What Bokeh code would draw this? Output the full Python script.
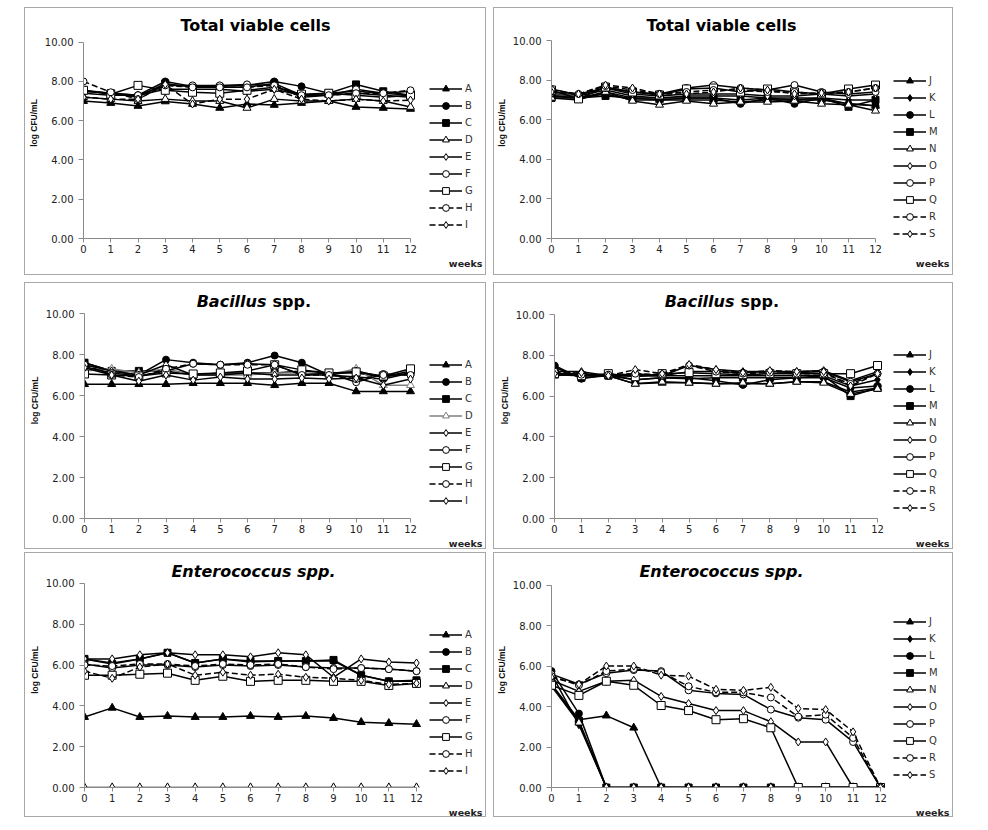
from bokeh.plotting import figure
from bokeh.models import Range1d, FixedTicker, Legend, LegendItem, Label, Spacer, NumeralTickFormatter, Title
from bokeh.layouts import row, column
from bokeh.embed import file_html
from bokeh.resources import INLINE

weeks = list(range(13))
y_ticks = [0, 2, 4, 6, 8, 10]
left_names = ["A", "B", "C", "D", "E", "F", "G", "H", "I"]
right_names = ["J", "K", "L", "M", "N", "O", "P", "Q", "R", "S"]

# ---- Total viable cells (A-I)
tvc_left = {
    "A": [7.0, 6.9, 6.75, 6.98, 6.85, 6.65, 6.85, 6.8, 6.9, 7.0, 6.7, 6.65, 6.6],
    "B": [7.5, 7.4, 7.3, 8.0, 7.75, 7.75, 7.8, 8.0, 7.75, 7.4, 7.5, 7.4, 7.3],
    "C": [7.55, 7.4, 7.2, 7.9, 7.7, 7.7, 7.7, 7.9, 7.3, 7.4, 7.85, 7.5, 7.3],
    "D": [7.2, 7.1, 7.0, 7.1, 7.0, 7.0, 6.65, 7.1, 7.0, 7.0, 7.1, 7.0, 6.7],
    "E": [7.4, 7.3, 7.3, 7.6, 7.6, 7.6, 7.5, 7.6, 7.3, 7.3, 7.4, 7.3, 7.2],
    "F": [7.5, 7.4, 7.3, 7.8, 7.8, 7.8, 7.85, 7.8, 7.2, 7.3, 7.6, 7.4, 7.5],
    "G": [7.55, 7.35, 7.8, 7.55, 7.45, 7.4, 7.55, 7.7, 7.35, 7.4, 7.3, 7.2, 7.3],
    "H": [8.0, 7.45, 7.1, 7.8, 7.7, 7.7, 7.7, 7.8, 7.3, 7.3, 7.4, 7.4, 7.55],
    "I": [7.2, 7.1, 7.1, 7.85, 6.85, 7.1, 7.1, 7.6, 7.1, 7.0, 7.1, 7.0, 7.05],
}
# ---- Total viable cells (J-S)
tvc_right = {
    "J": [7.2, 7.1, 7.3, 7.0, 7.0, 7.0, 7.0, 6.9, 7.0, 7.0, 7.0, 6.8, 6.7],
    "K": [7.2, 7.2, 7.5, 7.2, 7.1, 7.2, 7.2, 7.2, 7.1, 7.1, 7.1, 7.0, 7.0],
    "L": [7.2, 7.1, 7.4, 7.1, 7.0, 7.1, 7.1, 6.8, 7.1, 6.8, 7.1, 6.8, 6.7],
    "M": [7.1, 7.1, 7.2, 7.1, 7.1, 7.1, 7.1, 7.0, 7.1, 7.0, 7.1, 6.65, 7.0],
    "N": [7.1, 7.0, 7.4, 6.95, 6.75, 6.95, 6.8, 6.9, 6.9, 6.95, 6.8, 6.75, 6.45],
    "O": [7.3, 7.3, 7.6, 7.3, 7.2, 7.3, 7.3, 7.3, 7.2, 7.2, 7.3, 7.2, 7.3],
    "P": [7.55, 7.25, 7.6, 7.4, 7.3, 7.6, 7.75, 7.6, 7.5, 7.75, 7.4, 7.3, 7.4],
    "Q": [7.5, 7.05, 7.65, 7.4, 7.25, 7.55, 7.6, 7.4, 7.55, 7.4, 7.3, 7.55, 7.75],
    "R": [7.5, 7.3, 7.7, 7.5, 7.3, 7.4, 7.5, 7.5, 7.4, 7.4, 7.3, 7.4, 7.6],
    "S": [7.4, 7.3, 7.75, 7.6, 7.3, 7.3, 7.4, 7.6, 7.5, 7.3, 7.35, 7.4, 7.6],
}
# ---- Bacillus spp. (A-I)
bac_left = {
    "A": [6.55, 6.55, 6.55, 6.55, 6.6, 6.6, 6.6, 6.5, 6.6, 6.6, 6.2, 6.2, 6.2],
    "B": [7.6, 7.2, 7.0, 7.75, 7.6, 7.5, 7.6, 7.95, 7.6, 7.0, 6.9, 6.8, 7.1],
    "C": [7.6, 7.2, 7.2, 7.2, 7.0, 7.1, 7.1, 7.1, 7.2, 7.1, 7.1, 6.9, 7.2],
    "D": [7.2, 7.3, 7.1, 7.3, 7.0, 7.0, 7.0, 7.1, 7.1, 7.0, 7.3, 6.5, 6.5],
    "E": [7.5, 7.2, 7.0, 7.5, 7.0, 7.0, 7.1, 7.0, 7.0, 7.0, 7.2, 6.9, 7.1],
    "F": [7.4, 7.1, 6.95, 7.2, 7.55, 7.5, 7.55, 7.5, 7.0, 7.1, 6.65, 7.05, 7.0],
    "G": [7.05, 7.0, 6.95, 7.1, 7.05, 7.1, 7.2, 7.5, 7.25, 7.1, 7.15, 6.95, 7.3],
    "H": [7.5, 7.0, 6.9, 7.3, 7.55, 7.5, 7.5, 7.5, 7.0, 7.0, 6.8, 7.0, 7.0],
    "I": [7.35, 7.0, 6.7, 7.0, 6.75, 6.9, 6.8, 6.8, 6.85, 6.8, 6.85, 6.5, 6.8],
}
# ---- Bacillus spp. (J-S)
bac_right = {
    "J": [7.05, 7.0, 7.0, 6.6, 6.65, 6.65, 6.6, 6.6, 6.6, 6.7, 6.7, 6.2, 6.4],
    "K": [7.1, 7.1, 7.0, 7.0, 7.0, 7.0, 7.0, 7.0, 7.0, 7.0, 7.0, 6.5, 6.8],
    "L": [7.5, 6.85, 7.05, 6.8, 6.9, 6.9, 6.75, 6.55, 6.8, 6.9, 6.9, 6.4, 6.5],
    "M": [7.4, 6.9, 7.0, 6.8, 6.9, 6.85, 6.9, 6.9, 6.9, 6.9, 7.0, 6.0, 6.4],
    "N": [7.0, 7.1, 7.0, 6.6, 6.7, 6.65, 6.6, 6.65, 6.6, 6.7, 6.65, 6.1, 6.35],
    "O": [7.2, 7.2, 7.0, 7.1, 7.0, 7.5, 7.3, 7.2, 7.2, 7.2, 7.25, 6.75, 7.2],
    "P": [7.15, 7.0, 7.0, 7.0, 7.0, 7.2, 7.2, 7.15, 7.2, 7.15, 7.2, 6.7, 7.1],
    "Q": [7.1, 7.0, 7.1, 6.95, 7.1, 7.15, 7.1, 7.05, 7.1, 7.1, 7.1, 7.1, 7.5],
    "R": [7.2, 7.05, 7.05, 7.1, 7.05, 7.5, 7.2, 7.1, 7.15, 7.1, 7.1, 6.6, 7.1],
    "S": [7.1, 7.15, 7.0, 7.3, 7.1, 7.55, 7.3, 7.15, 7.25, 7.2, 7.2, 6.5, 7.1],
}
# ---- Enterococcus spp. (A-I)
ent_left = {
    "A": [3.45, 3.9, 3.45, 3.5, 3.45, 3.45, 3.5, 3.45, 3.5, 3.4, 3.2, 3.15, 3.1],
    "B": [6.3, 6.1, 6.3, 6.6, 6.1, 6.3, 6.15, 6.2, 6.2, 6.2, 5.5, 5.2, 5.2],
    "C": [6.3, 6.05, 6.3, 6.6, 6.1, 6.3, 6.2, 6.2, 6.2, 6.25, 5.5, 5.2, 5.25],
    "D": [0, 0, 0, 0, 0, 0, 0, 0, 0, 0, 0, 0, 0],
    "E": [6.3, 6.3, 6.5, 6.6, 6.5, 6.5, 6.4, 6.6, 6.5, 5.4, 6.3, 6.15, 6.1],
    "F": [6.05, 5.85, 6.0, 6.0, 5.9, 6.0, 5.95, 6.0, 5.9, 5.85, 5.85, 5.8, 5.7],
    "G": [5.5, 5.5, 5.55, 5.6, 5.25, 5.45, 5.2, 5.25, 5.25, 5.2, 5.2, 5.0, 5.1],
    "H": [6.0, 5.95, 6.05, 6.05, 5.95, 6.05, 6.0, 6.05, 5.9, 5.8, 5.85, 5.8, 5.7],
    "I": [5.7, 5.35, 5.9, 6.05, 5.5, 5.65, 5.5, 5.55, 5.4, 5.35, 5.25, 5.05, 5.1],
}
# ---- Enterococcus spp. (J-S)
ent_right = {
    "J": [5.1, 3.35, 3.55, 2.95, 0, 0, 0, 0, 0, 0, 0, 0, 0],
    "K": [5.6, 3.1, 0, 0, 0, 0, 0, 0, 0, 0, 0, 0, 0],
    "L": [5.75, 3.65, 0, 0, 0, 0, 0, 0, 0, 0, 0, 0, 0],
    "M": [5.05, 3.3, 0, 0, 0, 0, 0, 0, 0, 0, 0, 0, 0],
    "N": [5.0, 3.2, 0, 0, 0, 0, 0, 0, 0, 0, 0, 0, 0],
    "O": [5.3, 4.75, 5.25, 5.3, 4.5, 4.15, 3.8, 3.8, 3.25, 2.25, 2.25, 0, 0],
    "P": [5.6, 5.1, 5.65, 5.8, 5.75, 4.8, 4.65, 4.6, 3.85, 3.45, 3.35, 2.25, 0],
    "Q": [5.05, 4.55, 5.25, 5.05, 4.05, 3.8, 3.35, 3.4, 2.95, 0, 0, 0, 0],
    "R": [5.5, 5.05, 5.75, 5.85, 5.7, 5.0, 4.7, 4.7, 4.45, 3.5, 3.6, 2.45, 0],
    "S": [5.45, 5.1, 6.0, 6.0, 5.55, 5.5, 4.85, 4.8, 4.95, 3.9, 3.85, 2.75, 0],
}

# marker styles: (marker, size, fill, dash)
left_styles = [("triangle", 8, "black", "solid"), ("circle", 7, "black", "solid"),
               ("square", 7, "black", "solid"), ("triangle", 8, "white", "solid"),
               ("diamond", 8, "white", "solid"), ("circle", 7, "white", "solid"),
               ("square", 8, "white", "solid"), ("circle", 7, "white", "6 3"),
               ("diamond", 8, "white", "6 3")]
right_styles = [("triangle", 8, "black", "solid"), ("diamond", 8, "black", "solid"),
                ("circle", 7, "black", "solid"), ("square", 7, "black", "solid"),
                ("triangle", 8, "white", "solid"), ("diamond", 8, "white", "solid"),
                ("circle", 7, "white", "solid"), ("square", 8, "white", "solid"),
                ("circle", 7, "white", "6 3"), ("diamond", 8, "white", "6 3")]

FONT = "DejaVu Sans"


def make_panel(W, H, L, T, B, x12, names, data, styles, title_parts, leg_xy,
               overrides=None):
    R = 2
    frame_w = W - L - R
    px_x = (x12 - L) / 12.0
    px_y = (H - B - T) / 10.0
    x_end = frame_w / px_x
    y_end = 10 + T / px_y

    def dx(lx):
        return (lx - L) / px_x

    def dy(ly):
        return (H - B - ly) / px_y

    p = figure(width=W, height=H, x_range=Range1d(0, x_end), y_range=Range1d(0, y_end),
               output_backend="svg", toolbar_location=None,
               min_border_left=L, min_border_right=R, min_border_top=0, min_border_bottom=B)
    p.title.visible = False
    p.outline_line_color = None
    p.border_fill_color = None
    p.background_fill_color = None
    p.xgrid.visible = False
    p.ygrid.visible = False
    p.styles = {"box-shadow": "inset 0 0 0 1px #a8a8a8"}

    for ax in (p.xaxis[0], p.yaxis[0]):
        ax.axis_line_color = "#8a8a8a"
        ax.major_tick_line_color = "#8a8a8a"
        ax.minor_tick_line_color = None
        ax.major_tick_in = 0
        ax.major_label_text_font = FONT
        ax.major_label_text_font_size = "10px"
        ax.major_label_text_color = "#222222"
    p.xaxis.ticker = FixedTicker(ticks=weeks)
    p.xaxis.bounds = (0, 12)
    p.xaxis.major_tick_out = 4
    p.xaxis.major_label_standoff = 2
    p.yaxis.ticker = FixedTicker(ticks=y_ticks)
    p.yaxis.bounds = (0, 10)
    p.yaxis.formatter = NumeralTickFormatter(format="0.00")
    p.yaxis.major_tick_out = 5
    p.yaxis.major_label_standoff = 5
    p.yaxis.axis_label = "log CFU/mL"
    p.yaxis.axis_label_text_font = "Liberation Sans"
    p.yaxis.axis_label_text_font_style = "bold"
    p.yaxis.axis_label_text_font_size = "8.5px"
    p.yaxis.axis_label_text_color = "#111111"
    p.yaxis.axis_label_standoff = 3

    items = []
    for i, name in enumerate(names):
        marker, size, fill, dash = styles[i]
        col = "black"
        if overrides and name in overrides:
            o = overrides[name]
            col = o.get("color", col)
            dash = o.get("dash", dash)
        lr = p.line(weeks, data[name], line_color=col, line_width=1.5, line_dash=dash)
        sr = p.scatter(weeks, data[name], marker=marker, size=size, fill_color=fill,
                       line_color=col, line_width=1)
        items.append(LegendItem(label=name, renderers=[lr, sr]))

    leg = Legend(items=items, location=leg_xy, glyph_width=33, glyph_height=17,
                 label_height=17, spacing=0, padding=0, margin=0, label_standoff=3,
                 border_line_color=None, background_fill_alpha=0,
                 label_text_font=FONT, label_text_font_size="10px",
                 label_text_color="#333333")
    p.add_layout(leg, "center")

    # chart title (inside the frame area above the y-axis end)
    if len(title_parts) == 1:
        txt, style, lx, ly = title_parts[0]
        p.add_layout(Label(x=dx(lx), y=dy(ly), text=txt, text_font=FONT,
                           text_font_style=style, text_font_size="16px",
                           text_align="center", text_baseline="middle", text_color="black"))
    else:
        (t1, s1, lx1, ly), (t2, s2, lx2, _) = title_parts
        p.add_layout(Label(x=dx(lx1), y=dy(ly), text=t1, text_font=FONT,
                           text_font_style=s1, text_font_size="16px",
                           text_align="right", text_baseline="middle", text_color="black"))
        p.add_layout(Label(x=dx(lx2), y=dy(ly), text=t2, text_font=FONT,
                           text_font_style=s2, text_font_size="16px",
                           text_align="left", text_baseline="middle", text_color="black"))
    wt = Title(text="weeks", align="right", text_font=FONT, text_font_style="bold",
               text_font_size="9.5px", text_color="#222222", standoff=0, offset=2)
    p.add_layout(wt, "below")
    return p


p1 = make_panel(462, 268, 59, 35, 35, 386, left_names, tvc_left, left_styles,
                [("Total viable cells", "bold", 231, 18)], (346, 5))
p2 = make_panel(460, 268, 58, 33, 37, 382, right_names, tvc_right, right_styles,
                [("Total viable cells", "bold", 228, 18)], (342, -4))
p3 = make_panel(462, 267, 60, 31, 31, 386, left_names, bac_left, left_styles,
                [("Bacillus", "bold italic", 242, 19), ("spp.", "bold", 248, 19)],
                (345, 9), overrides={"D": {"color": "#808080"}, "I": {"dash": "solid"}})
p4 = make_panel(460, 267, 61, 32, 31, 384, right_names, bac_right, right_styles,
                [("Bacillus", "bold italic", 241, 19), ("spp.", "bold", 247, 19)],
                (339, 2))
p5 = make_panel(462, 265, 60, 31, 29, 392, left_names, ent_left, left_styles,
                [("Enterococcus spp.", "bold italic", 229, 19)], (345, 8))
p6 = make_panel(460, 265, 58, 33, 27, 387, right_names, ent_right, right_styles,
                [("Enterococcus spp.", "bold italic", 228, 19)], (342, 4))

layout = column(
    Spacer(height=7),
    row(Spacer(width=24), p1, Spacer(width=7), p2),
    Spacer(height=7),
    row(Spacer(width=24), p3, Spacer(width=7), p4),
    Spacer(height=3),
    row(Spacer(width=24), p5, Spacer(width=7), p6),
)

open("out.html", "w").write(file_html(layout, INLINE))
